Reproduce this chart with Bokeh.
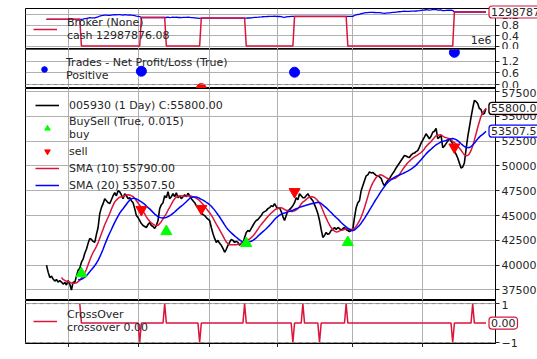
import numpy as np
import pandas as pd
from bokeh.plotting import figure
from bokeh.layouts import column
from bokeh.models import FixedTicker, Range1d, Legend, LegendItem, Label, Span
from bokeh.embed import file_html
from bokeh.resources import INLINE

# ---------------- data ----------------
data_name = "005930 (1 Day)"
close = [
    40000, 39300, 38750, 38900, 38600, 38400, 38550, 38300, 38450, 38300,
    38100, 38250, 38000, 38450, 38100, 37500, 38300, 38250, 38900, 39500,
    39700, 40300, 40600, 41200, 41600, 42200, 42700, 42600, 42400, 42300,
    43100, 43800, 45200, 45800, 46200, 46700, 46500, 46300, 46200, 46600,
    47000, 47300, 47000, 47500, 47400, 47100, 46700, 47200, 47000, 46700,
    46800, 46500, 46300, 45700, 45000, 44800, 44500, 44200, 44000, 43900,
    43800, 44100, 44300, 44000, 43900, 43700, 44000, 44500, 45700, 46100,
    46300, 47000, 46800, 47400, 46700, 46900, 47200, 46900, 47300, 46800,
    47000, 46700, 46900, 47100, 46900, 47250, 47000, 46700, 46500, 46300,
    46000, 45800, 45500, 45300, 45100, 45000, 44800, 44650, 44500, 43800,
    43200, 42700, 42300, 42500, 42200, 42000, 41700, 41300, 41600, 42000,
    42300, 42600, 42500, 42300, 42400, 42300, 42000, 42200, 42200, 42800,
    43300, 43500, 43400, 43700, 44000, 44300, 44500, 44600, 44800, 45000,
    45300, 45400, 45500, 45700, 45800, 46000, 45900, 46200, 45900, 45700,
    45800, 45400, 44900, 44500, 45000, 45500, 45600, 45800, 46000, 46300,
    46800, 46600, 47200, 47000, 46800, 46800, 47000, 47200, 46900, 46700,
    46500, 46100, 45700, 45200, 44500, 43600, 42800, 43000, 43300, 43100,
    43200, 43500, 43600, 43800, 43600, 43800, 43700, 43500, 43700, 43800,
    43600, 43500, 43400, 43500, 43600, 44800, 45800, 46300, 46500, 47500,
    48000, 48500, 49000, 49100, 49400, 49300, 49350, 49200, 49050, 49000,
    48900, 48750, 48300, 48000, 48300, 48550, 48700, 49000, 49250, 49500,
    49800, 50050, 50300, 50550, 50800, 51050, 51000, 50900, 50850, 51100,
    51250, 51300, 51450, 51550, 51900, 52300, 52600, 52900, 53250, 53000,
    52750, 53000, 53400, 53500, 53800, 52750, 52900, 53100, 51850, 52000,
    52250, 52500, 52750, 52500, 52250, 51500, 51200, 50800, 50300, 49800,
    49900, 50300, 51650, 52900, 53900, 54900, 55800, 56600, 56500, 56300,
    55800, 55700, 55200, 55300, 55800,
]
sma_fast_period = 10
sma_slow_period = 20

buy_idx = [21, 72, 120, 181]
buy_marker_price = [39150, 43400, 42200, 42300]
sell_idx = [57, 93, 149, 245]
sell_marker_price = [45600, 45700, 47400, 51900]

cross_start = 20
cross_up_idx = [20, 71, 119, 154, 180, 256]
cross_down_idx = [56, 92, 148, 164, 244]

trade_idx = [57, 93, 149, 245]
trade_pnl = [680000, -210000, 630000, 1650000]

cash_change_idx = [0, 21, 57, 72, 93, 120, 149, 181, 245]
cash_level = [10240000, 170000, 10920000, 190000, 10710000, 160000,
              11340000, 200000, 12987876.08]

x_tick_idx = [13, 55, 98, 139, 184, 226]
price_ticks = [37500, 40000, 42500, 45000, 47500, 50000, 52500, 55000, 57500]
broker_ticks = [0, 4000000, 8000000, 12000000]
broker_tick_text = ["0.0", "0.4", "0.8", "1.2"]
trade_ticks = [0, 600000, 1200000, 1800000]
trade_tick_text = ["0.0", "0.6", "1.2", "1.8"]
cross_ticks = [-1, 1]
cross_tick_text = ["\u22121", "1"]

# ---------------- derived series ----------------
n = len(close)
bars = np.arange(n)
s = pd.Series(close, dtype=float)
sma_fast = s.rolling(sma_fast_period).mean().to_numpy()
sma_slow = s.rolling(sma_slow_period).mean().to_numpy()

cross = np.full(n, np.nan)
cross[cross_start:] = 0.0
cross[cross_up_idx] = 1.0
cross[cross_down_idx] = -1.0

cash = np.zeros(n)
for k, start in enumerate(cash_change_idx):
    end = cash_change_idx[k + 1] if k + 1 < len(cash_change_idx) else n
    cash[start:end] = cash_level[k]
shares = np.zeros(n)
for b, sl in zip(buy_idx, sell_idx):
    k = cash_change_idx.index(b)
    shares[b:sl] = (cash_level[k - 1] - cash_level[k]) / close[b]
value = cash + shares * np.array(close, dtype=float)

pos_x = [i for i, v in zip(trade_idx, trade_pnl) if v >= 0]
pos_y = [v for v in trade_pnl if v >= 0]
neg_x = [i for i, v in zip(trade_idx, trade_pnl) if v < 0]
neg_y = [v for v in trade_pnl if v < 0]

# ---------------- styling ----------------
FONT = "DejaVu Sans"
CRIMSON = "#DC143C"
GRID = "#b0b0b0"
TXT = "#262626"
FW = 470
xr = Range1d(-12.6, 269.7)


def make_fig(fh, y0, y1, yticks, ytext, xaxis=False, top=0):
    p = figure(frame_width=FW, frame_height=fh, x_range=xr,
               y_range=Range1d(y0, y1), output_backend="svg",
               toolbar_location=None, y_axis_location="right",
               x_axis_location="below" if xaxis else None,
               min_border_left=25, min_border_right=42,
               min_border_top=top, min_border_bottom=0)
    p.background_fill_color = "white"
    p.border_fill_color = "white"
    p.outline_line_color = "black"
    p.outline_line_width = 1
    ax = p.yaxis[0]
    ax.ticker = FixedTicker(ticks=yticks)
    if ytext is not None:
        ax.major_label_overrides = {t: l for t, l in zip(yticks, ytext)}
    ax.major_label_text_font = FONT
    ax.major_label_text_font_size = "11px"
    ax.major_label_text_color = TXT
    ax.major_tick_out = 4
    ax.major_tick_in = 0
    ax.minor_tick_out = 0
    ax.minor_tick_in = 0
    ax.major_label_standoff = 2
    ax.axis_line_color = "black"
    ax.major_tick_line_color = TXT
    p.xgrid.ticker = FixedTicker(ticks=x_tick_idx)
    p.ygrid.ticker = FixedTicker(ticks=yticks)
    for g in (p.xgrid[0], p.ygrid[0]):
        g.grid_line_color = GRID
        g.grid_line_width = 1
    if xaxis:
        # date labels fall below the visible area: only the tick marks show
        xa = p.xaxis[0]
        xa.ticker = FixedTicker(ticks=[], minor_ticks=x_tick_idx)
        xa.major_tick_out = 0
        xa.major_tick_in = 0
        xa.minor_tick_out = 4
        xa.minor_tick_in = 0
        xa.axis_line_color = "black"
        xa.minor_tick_line_color = TXT
    return p


def add_legend(p, items, pad):
    leg = Legend(items=items, location="top_left",
                 background_fill_alpha=0, border_line_alpha=0,
                 label_text_font=FONT, label_text_font_size="11px",
                 label_text_line_height=1.22,
                 label_text_color=TXT, glyph_width=24, glyph_height=14,
                 label_standoff=10, spacing=3, padding=pad, margin=0,
                 label_height=13)
    p.add_layout(leg)


def add_tag(p, y, text, color):
    p.add_layout(Label(x=n - 1, y=y, text=text, x_offset=3,
                       text_align="left", text_baseline="middle",
                       text_font=FONT, text_font_size="11px",
                       text_color=TXT, border_line_color=color,
                       border_line_width=1.2,
                       background_fill_color="white", padding=2,
                       border_radius=3), "right")


# ---- broker ----
p1 = make_fig(41, -1130000, 14310000, broker_ticks, broker_tick_text, top=8)
p1.line(bars, value, color="blue", line_width=1.3)
r_cash = p1.line(bars, cash, color=CRIMSON, line_width=1.5)
add_legend(p1, [LegendItem(label=f"Broker (None)\ncash {cash[-1]:.2f}",
                           renderers=[r_cash])], 8)
add_tag(p1, cash[-1], f"{cash[-1]:.2f}", CRIMSON)

# ---- trades ----
p2 = make_fig(39, -205000, 1795000, trade_ticks, trade_tick_text)
p2.add_layout(Span(location=0, dimension="width", line_color="#888888",
                   line_dash="4 3", line_width=1))
r_pos = p2.scatter(pos_x, pos_y, size=10, color="blue")
r_neg = p2.scatter(neg_x, neg_y, size=10, color="red")
add_legend(p2, [
    LegendItem(label="Trades - Net Profit/Loss (True)\nPositive", renderers=[r_pos]),
    LegendItem(label="Negative", renderers=[r_neg]),
], 7)
p1.add_layout(Label(x=xr.end, y=2260000, text="1e6", x_offset=-4,
                    text_align="right", text_baseline="middle",
                    text_font=FONT, text_font_size="11px", text_color=TXT))

# ---- price ----
p3 = make_fig(212, 36440, 57810, price_ticks, None)
r_close = p3.line(bars, close, color="black", line_width=1.6)
r_fast = p3.line(bars, sma_fast, color=CRIMSON, line_width=1.5)
r_slow = p3.line(bars, sma_slow, color="blue", line_width=1.5)
r_buy = p3.scatter(buy_idx, buy_marker_price, marker="triangle", size=11,
                   color="#00FF00")
r_sell = p3.scatter(sell_idx, sell_marker_price, marker="inverted_triangle",
                    size=11, color="red")
add_legend(p3, [
    LegendItem(label=f"{data_name} C:{close[-1]:.2f}", renderers=[r_close]),
    LegendItem(label="BuySell (True, 0.015)\nbuy", renderers=[r_buy]),
    LegendItem(label="sell", renderers=[r_sell]),
    LegendItem(label=f"SMA ({sma_fast_period}) {sma_fast[-1]:.2f}",
               renderers=[r_fast]),
    LegendItem(label=f"SMA ({sma_slow_period}) {sma_slow[-1]:.2f}",
               renderers=[r_slow]),
], 10)
add_tag(p3, sma_fast[-1], f"{sma_fast[-1]:.2f}", CRIMSON)
add_tag(p3, close[-1], f"{close[-1]:.2f}", "black")
add_tag(p3, sma_slow[-1], f"{sma_slow[-1]:.2f}", "blue")

# ---- crossover ----
p4 = make_fig(43, -1.05, 1.16, cross_ticks, cross_tick_text, xaxis=True)
for lv in cross_ticks:
    p4.add_layout(Span(location=lv, dimension="width", line_color="#888888",
                       line_dash="4 3", line_width=1))
r_cross = p4.line(bars, cross, color=CRIMSON, line_width=1.5)
add_legend(p4, [LegendItem(label=f"CrossOver\ncrossover {cross[-1]:.2f}",
                           renderers=[r_cross])], 8)
add_tag(p4, cross[-1], f"{cross[-1]:.2f}", CRIMSON)

layout = column(p1, p2, p3, p4, spacing=0)
open("out.html", "w").write(file_html(layout, INLINE))
